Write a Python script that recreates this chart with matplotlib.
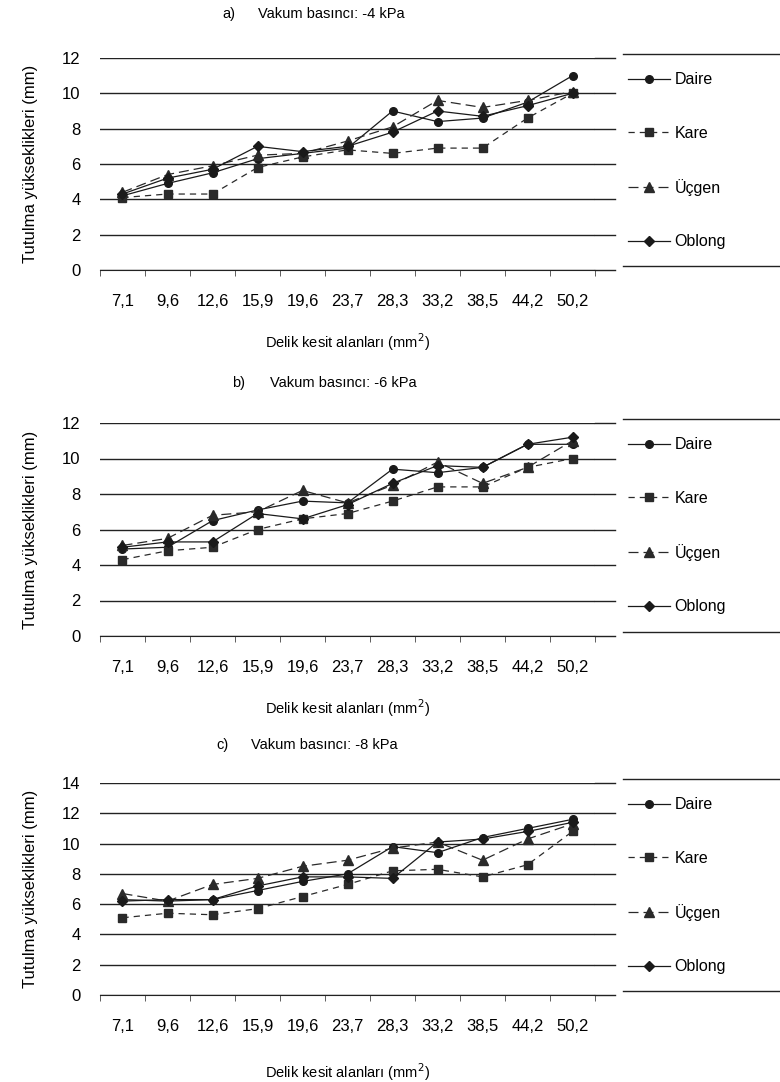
import matplotlib
matplotlib.use("Agg")
import matplotlib.pyplot as plt
from matplotlib.lines import Line2D

plt.rcParams['font.family'] = ['Liberation Sans', 'DejaVu Sans']

categories = ["7,1", "9,6", "12,6", "15,9", "19,6", "23,7", "28,3", "33,2", "38,5", "44,2", "50,2"]
series_names = ["Daire", "Kare", "Üçgen", "Oblong"]

# a) -4 kPa
a_daire = [4.2, 4.9, 5.5, 6.3, 6.6, 6.9, 9.0, 8.4, 8.6, 9.5, 11.0]
a_kare = [4.1, 4.3, 4.3, 5.8, 6.4, 6.8, 6.6, 6.9, 6.9, 8.6, 10.0]
a_ucgen = [4.4, 5.4, 5.9, 6.5, 6.6, 7.3, 8.1, 9.6, 9.2, 9.6, 10.1]
a_oblong = [4.3, 5.2, 5.7, 7.0, 6.7, 7.0, 7.8, 9.0, 8.7, 9.3, 10.0]

# b) -6 kPa
b_daire = [4.9, 5.0, 6.5, 7.1, 7.6, 7.5, 9.4, 9.2, 9.5, 10.8, 10.8]
b_kare = [4.3, 4.8, 5.0, 6.0, 6.6, 6.9, 7.6, 8.4, 8.4, 9.5, 10.0]
b_ucgen = [5.1, 5.5, 6.8, 7.0, 8.2, 7.5, 8.5, 9.8, 8.6, 9.5, 11.0]
b_oblong = [5.0, 5.3, 5.3, 6.9, 6.6, 7.4, 8.6, 9.6, 9.5, 10.8, 11.2]

# c) -8 kPa
c_daire = [6.3, 6.2, 6.3, 6.9, 7.5, 8.0, 9.8, 9.4, 10.4, 11.0, 11.6]
c_kare = [5.1, 5.4, 5.3, 5.7, 6.5, 7.3, 8.2, 8.3, 7.8, 8.6, 10.8]
c_ucgen = [6.7, 6.2, 7.3, 7.7, 8.5, 8.9, 9.7, 10.1, 8.9, 10.3, 11.3]
c_oblong = [6.2, 6.3, 6.3, 7.2, 7.8, 7.8, 7.7, 10.1, 10.3, 10.8, 11.4]

panels = [
    ("a)", "Vakum basıncı: -4 kPa", [a_daire, a_kare, a_ucgen, a_oblong], 12),
    ("b)", "Vakum basıncı: -6 kPa", [b_daire, b_kare, b_ucgen, b_oblong], 12),
    ("c)", "Vakum basıncı: -8 kPa", [c_daire, c_kare, c_ucgen, c_oblong], 14),
]

W, H = 780, 1082
fig = plt.figure(figsize=(W / 100, H / 100), dpi=100)
fig.patch.set_facecolor("white")

def fx(px):
    return px / W

def fy(py):
    return 1 - py / H

layout = [
    dict(top=58, bottom=270, title_y=14, pre_x=222, title_x=258, xlabel_y=342),
    dict(top=423, bottom=636, title_y=383, pre_x=232, title_x=270, xlabel_y=708),
    dict(top=783, bottom=995, title_y=745, pre_x=216, title_x=251, xlabel_y=1072),
]

styles = [
    dict(color="#1a1a1a", linestyle="-", marker="o", markersize=5.5, linewidth=0.9),
    dict(color="#2a2a2a", linestyle=(0, (5, 4)), marker="s", markersize=5.5, linewidth=0.9),
    dict(color="#2a2a2a", linestyle=(0, (8, 4)), marker="^", markersize=6.5, linewidth=0.9),
    dict(color="#1a1a1a", linestyle="-", marker="D", markersize=5, linewidth=0.9),
]

L, R = 100, 595
n = len(categories)
x = list(range(n))
for (prefix, title, data, ymax), lay in zip(panels, layout):
    ax = fig.add_axes([fx(L), fy(lay["bottom"]), fx(R - L), (lay["bottom"] - lay["top"]) / H])
    handles = []
    for name, vals, st in zip(series_names, data, styles):
        h, = ax.plot(x, vals, label=name, clip_on=False, **st)
        handles.append(h)
    ax.set_xlim(-0.5, n - 0.5)
    ax.set_ylim(0, ymax)
    ax.set_yticks(range(0, ymax + 1, 2))
    ax.yaxis.grid(True, color="#222222", linewidth=1.0)
    ax.set_axisbelow(True)
    for s in ["top", "right", "left"]:
        ax.spines[s].set_visible(False)
    ax.spines["bottom"].set_color("#222222")
    ax.set_xticks(x)
    ax.set_xticklabels(categories, fontsize=12)
    ax.tick_params(axis="x", length=0, pad=17)
    ax.set_xticks([i - 0.5 for i in range(n + 1)], minor=True)
    ax.tick_params(axis="x", which="minor", length=4, color="#444444")
    ax.tick_params(axis="y", length=0, labelsize=12, pad=14)
    ax.set_ylabel("Tutulma yükseklikleri (mm)", fontsize=12)
    ax.yaxis.set_label_coords(-0.125, 0.5)

    # grid lines continue a little past the plot area
    for yv in range(0, ymax + 1, 2):
        ax.plot([n - 0.5, n - 0.05], [yv, yv], color="#222222", linewidth=1.0, clip_on=False, zorder=0)

    fig.text(fx(lay["pre_x"]), fy(lay["title_y"]), prefix, fontsize=10.5, va="center", ha="left")
    fig.text(fx(lay["title_x"]), fy(lay["title_y"]), title, fontsize=10.5, va="center", ha="left")
    fig.text(fx(348), fy(lay["xlabel_y"]), "Delik kesit alanları (mm$^2$)", fontsize=10.5,
             va="center", ha="center")

    # legend box borders
    for yy in (lay["top"] - 4, lay["bottom"] - 4):
        fig.add_artist(Line2D([fx(623), fx(780)], [fy(yy), fy(yy)], color="#222222", linewidth=1.0))
    fig.legend(handles=handles, loc="upper left",
               bbox_to_anchor=(fx(622), fy(lay["top"] + 8)),
               frameon=False, fontsize=11.5, handlelength=2.6, handletextpad=0.3,
               labelspacing=2.4, borderaxespad=0)

fig.savefig("out.png", dpi=100, facecolor="white")
